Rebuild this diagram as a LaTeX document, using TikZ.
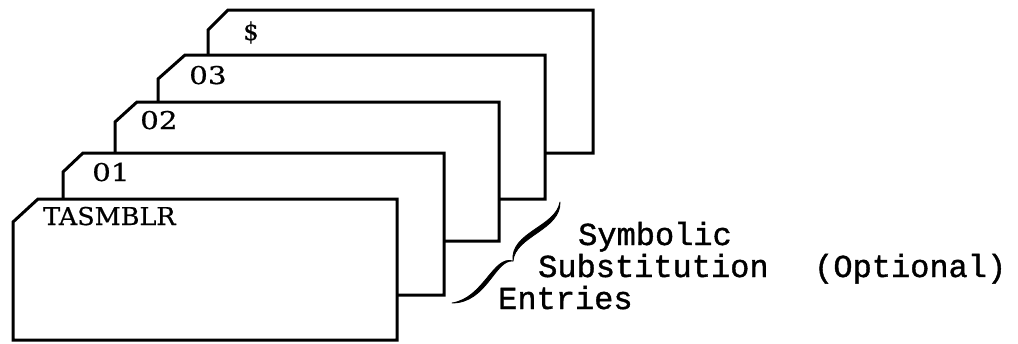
\documentclass[tikz,border=0pt]{standalone}
\usepackage{fontspec}
\newfontfamily\tw[FakeBold=1.2]{Liberation Mono}
\newfontfamily\cardfont[FakeBold=0.6]{DejaVu Serif}
\begin{document}
\begin{tikzpicture}[x=1pt,y=-1pt,
  card/.style={draw=black, fill=white, line width=3pt, line join=miter},
  lbl/.style={anchor=base west, inner sep=0pt, font=\cardfont\fontsize{24.5}{25}\selectfont},
  tt/.style={anchor=base west, inner sep=0pt, font=\tw\fontsize{32}{32}\selectfont},
  bracefill/.style={fill=black, draw=black, line width=0.8pt, line join=round}]
\useasboundingbox (0,0) rectangle (1018,343);
\fill[white] (0,0) rectangle (1018,343);
% cards, back to front
\draw[card] (208,30) -- (228,10) -- (593,10) -- (593,153) -- (208,153) -- cycle;
\draw[card] (158,79) -- (185,55) -- (545,55) -- (545,199) -- (158,199) -- cycle;
\draw[card] (115,122) -- (137,102) -- (499,102) -- (499,241) -- (115,241) -- cycle;
\draw[card] (63,172) -- (83,153) -- (444,153) -- (444,295) -- (63,295) -- cycle;
\draw[card] (13,222) -- (38,199) -- (397,199) -- (397,340) -- (13,340) -- cycle;
% card labels
\node[lbl] (c0) at (43,225) {\scalebox{1.04}[1]{TASMBLR}};
\node[lbl] (c1) at (92,181) {\scalebox{1.2}[1]{01}};
\node[lbl] (c2) at (140,129) {\scalebox{1.2}[1]{02}};
\node[lbl] (c3) at (189,84) {\scalebox{1.2}[1]{03}};
\node[lbl] (c4) at (243,40) {\$};
% brace
\path[bracefill] (560,202) .. controls (561,230) and (515,236) .. (513,261)
   .. controls (510,232) and (556,227) .. (560,202) -- cycle;
\path[bracefill] (513,261) .. controls (495,259) and (487,303) .. (452,303)
   .. controls (484,298) and (493,255) .. (513,261) -- cycle;
% right-hand text
\node[tt] (t1) at (578,245) {Symbolic};
\node[tt] (t2) at (538,277) {Substitution};
\node[tt] (t3) at (814,277) {(Optional)};
\node[tt] (t4) at (498,309) {Entries};
\end{tikzpicture}
\end{document}
